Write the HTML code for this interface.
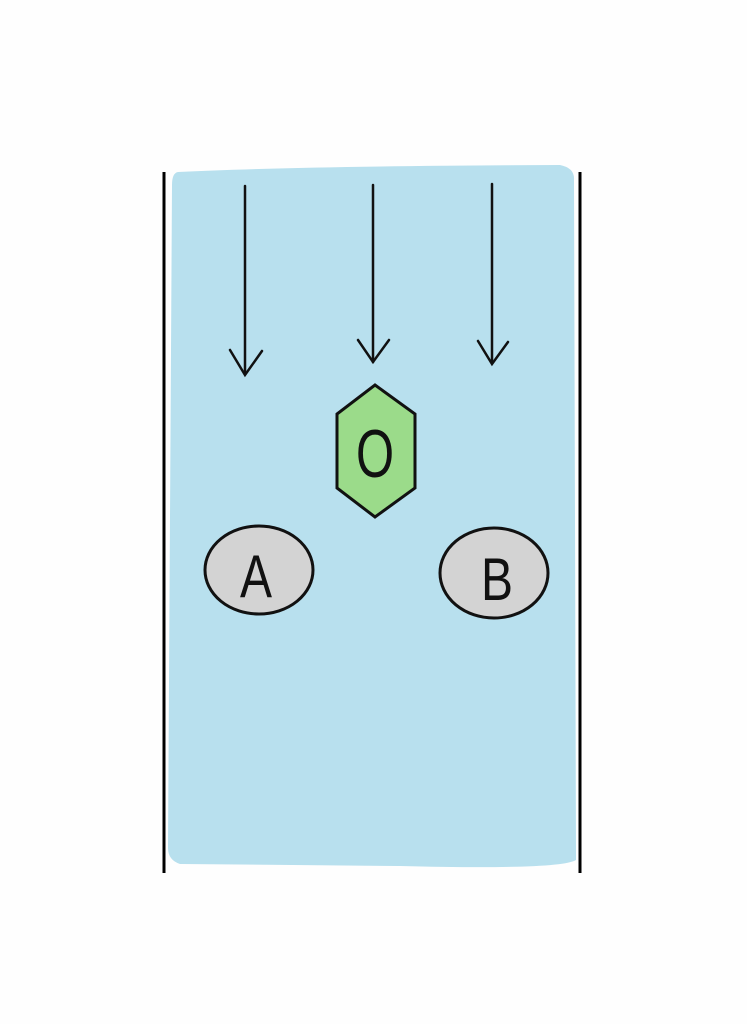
<!DOCTYPE html>
<html><head><style>
html,body{margin:0;padding:0;background:#fff;}
</style></head><body>
<svg width="747" height="1024" viewBox="0 0 747 1024" xmlns="http://www.w3.org/2000/svg">
<rect width="747" height="1024" fill="#fefefe"/>
<path d="M178 172 Q300 166 560 165 Q575 168 574 180 L576 860 Q560 870 400 866 L180 864 Q168 860 168 848 L172 185 Q172 173 178 172Z" fill="#b8e0ee"/>
<line x1="164" y1="172" x2="164" y2="873" stroke="#000" stroke-width="3"/>
<line x1="580" y1="172" x2="580" y2="873" stroke="#000" stroke-width="3"/>
<g stroke="#111" stroke-width="2.5" fill="none" stroke-linecap="round">
<line x1="245" y1="186" x2="245" y2="374"/><polyline points="230,350 245,375 262,351"/>
<line x1="373" y1="185" x2="373" y2="362"/><polyline points="358,340 373,362 389,340"/>
<line x1="492" y1="184" x2="492" y2="363"/><polyline points="478,341 492,364 508,342"/>
</g>
<polygon points="375,385 415,414 415,488 375,517 337,488 337,414" fill="#9bdb8a" stroke="#111" stroke-width="3"/>
<text transform="translate(375,477) scale(0.72,1)" font-family="Liberation Sans, sans-serif" font-size="68" text-anchor="middle" fill="#111">O</text>
<ellipse cx="259" cy="570" rx="54" ry="44" fill="#d3d3d3" stroke="#111" stroke-width="3"/>
<text transform="translate(256,597) scale(0.8,1)" font-family="Liberation Sans, sans-serif" font-size="60" text-anchor="middle" fill="#111">A</text>
<ellipse cx="494" cy="573" rx="54" ry="45" fill="#d3d3d3" stroke="#111" stroke-width="3"/>
<text transform="translate(497,600) scale(0.8,1)" font-family="Liberation Sans, sans-serif" font-size="60" text-anchor="middle" fill="#111">B</text>
</svg>
</body></html>
